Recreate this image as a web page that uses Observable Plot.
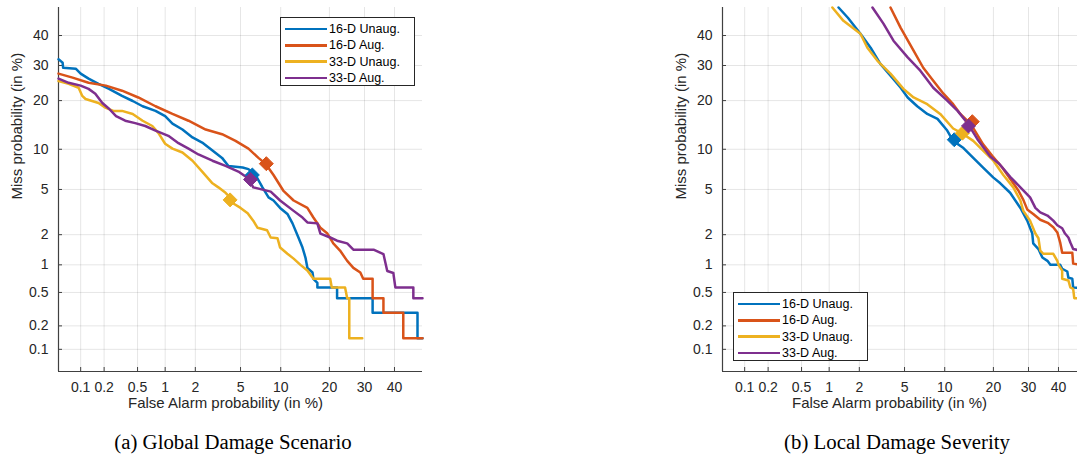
<!DOCTYPE html>
<html>
<head>
<meta charset="utf-8">
<script src="https://cdn.jsdelivr.net/npm/d3@7"></script>
<script src="https://cdn.jsdelivr.net/npm/@observablehq/plot@0.6"></script>
<style>
  html, body { margin: 0; padding: 0; background: #fff; overflow: hidden; }
  #wrap { position: relative; width: 1077px; height: 456px; overflow: hidden; background: #fff; }
  .panel { position: absolute; top: 0; width: 440px; height: 420px; }
  .panel svg { max-width: none !important; }
  .legend { position: absolute; width: 133px; height: 67px; border: 1px solid #262626; background: #fff;
            font-family: "Liberation Sans", Arial, sans-serif; font-size: 12.5px; color: #000; z-index: 5; }
  .legend .row { position: absolute; left: 0; height: 16px; width: 133px; }
  .legend .sw { position: absolute; left: 4px; top: 6.8px; width: 42px; height: 2.6px; }
  .legend .lab { position: absolute; left: 48px; top: 0; line-height: 16px; white-space: nowrap; }
  .caption { position: absolute; top: 431px; width: 440px; text-align: center;
             font-family: "Liberation Serif", "Times New Roman", serif; font-size: 20.8px; color: #000; line-height: 22px; }
</style>
</head>
<body>
<div id="wrap"></div>
<script>
// ---------- DATA (all values in %) ----------
const seriesNames = ["16-D Unaug.", "16-D Aug.", "33-D Unaug.", "33-D Aug."];
const seriesColors = ["#0072BD", "#D95319", "#EDB120", "#7E2F8E"];
const tickValues = [0.1, 0.2, 0.5, 1, 2, 5, 10, 20, 30, 40];
const tickLabels = ["0.1", "0.2", "0.5", "1", "2", "5", "10", "20", "30", "40"];
const captions = ["(a) Global Damage Scenario", "(b) Local Damage Severity"];
const xLabel = "False Alarm probability (in %)";
const yLabel = "Miss probability (in %)";

// (a) Global Damage Scenario: [false alarm %, miss %]
const global16Unaug = [[0.05,32],[0.057,30.9],[0.058,29.3],[0.086,29.0],[0.10,27.5],[0.127,26.0],[0.17,24.5],[0.23,23.1],[0.33,21.2],[0.44,19.9],[0.57,18.6],[0.79,17.5],[1.0,16.3],[1.19,14.7],[1.5,13.5],[1.88,12.0],[2.32,11.1],[2.88,9.8],[3.5,8.7],[3.97,7.6],[5.2,7.4],[5.78,7.2],[6.55,6.5],[7.4,5.2],[8.2,4.3],[8.9,4.05],[9.9,3.5],[11.1,3.1],[12.0,2.55],[13.1,1.88],[13.9,1.5],[14.5,1.19],[14.9,0.93],[16.0,0.83],[16.2,0.71],[17.1,0.64],[17.1,0.57],[22.0,0.57],[22.0,0.43],[32.6,0.43],[32.6,0.29],[48.2,0.29],[48.2,0.14],[50,0.14]];
const global16Aug = [[0.05,27.5],[0.078,26.3],[0.127,24.8],[0.21,24.0],[0.33,22.6],[0.51,20.8],[0.79,18.6],[1.19,16.8],[1.72,15.3],[2.5,13.5],[3.5,12.6],[4.55,11.4],[5.78,10.1],[6.9,8.7],[7.8,7.9],[8.9,6.5],[10.4,4.9],[12.2,4.05],[14.9,3.5],[16.2,2.88],[17.8,2.32],[19.5,2.05],[21.0,1.65],[22.8,1.4],[24.8,1.1],[26.6,0.93],[28.7,0.83],[29.6,0.71],[32.6,0.71],[32.6,0.43],[36.2,0.43],[36.2,0.29],[43.1,0.29],[43.1,0.14],[50,0.14]];
const global33Unaug = [[0.05,25.3],[0.069,24.5],[0.094,23.4],[0.105,21.2],[0.116,20.4],[0.17,19.4],[0.21,18.2],[0.26,17.5],[0.33,17.5],[0.44,16.8],[0.57,15.3],[0.73,14.2],[0.85,12.8],[1.0,10.9],[1.19,10.1],[1.5,9.5],[1.88,8.3],[2.32,6.9],[2.88,5.6],[3.25,5.2],[3.75,4.7],[4.1,4.3],[4.4,3.8],[5.0,3.5],[5.7,3.15],[6.3,2.7],[6.8,2.32],[8.0,2.2],[8.5,1.88],[9.5,1.85],[9.9,1.5],[11.1,1.3],[12.2,1.16],[13.5,1.0],[14.9,0.87],[16.2,0.71],[20.2,0.71],[20.6,0.57],[24.2,0.57],[24.8,0.43],[25.4,0.43],[25.4,0.14],[29.3,0.14]];
const global33Aug = [[0.05,26.0],[0.069,24.8],[0.10,24.0],[0.127,23.1],[0.155,21.8],[0.19,19.4],[0.23,18.0],[0.28,16.3],[0.36,15.3],[0.47,14.8],[0.61,14.2],[0.79,13.3],[1.08,12.3],[1.37,11.0],[1.72,10.1],[2.14,9.2],[2.88,8.3],[3.75,7.6],[4.8,6.9],[5.78,6.1],[6.3,5.2],[8.5,4.8],[9.9,4.05],[12.2,3.3],[13.9,2.88],[14.9,2.6],[17.1,2.55],[17.8,2.05],[20.2,1.88],[22.0,1.75],[24.8,1.65],[26.6,1.43],[32.9,1.43],[36.2,1.29],[37.5,0.86],[39.6,0.82],[40.3,0.57],[46.7,0.57],[46.7,0.43],[50,0.43]];
const globalMarkers = [[6.2,6.5],[7.9,7.9],[4.1,4.1],[6.0,6.0]];

// (b) Local Damage Severity
const local16Unaug = [[1.25,50],[1.55,46.3],[2.05,40.6],[2.55,35.8],[3.12,30.5],[3.82,26.9],[4.65,23.4],[5.3,20.8],[6.3,18.6],[7.5,16.8],[8.9,15.7],[10.4,13.3],[11.4,11.4],[13.3,10.2],[15.3,8.7],[17.5,7.4],[20.0,6.2],[21.8,5.6],[24.5,4.7],[27.5,3.5],[29.6,2.7],[31.2,2.05],[31.5,1.65],[33.2,1.45],[34.5,1.19],[36.2,1.1],[37.2,1.0],[40.6,1.0],[41.3,0.91],[43.1,0.85],[43.5,0.73],[44.9,0.71],[45.2,0.57],[47.5,0.56]];
const local16Aug = [[3.82,50],[4.65,42.7],[5.9,34.8],[7.0,29.3],[8.3,25.4],[9.8,21.8],[11.4,19.1],[12.7,16.8],[14.8,14.6],[17.5,10.8],[19.7,9.0],[22.3,7.4],[25.4,5.6],[26.9,4.9],[28.4,4.1],[29.6,3.4],[31.5,3.1],[33.8,2.75],[36.3,2.58],[38.2,2.35],[39.6,2.1],[40.6,1.68],[41.3,1.33],[44.9,1.33],[45.2,1.03],[47.8,1.0]];
const local33Unaug = [[1.08,50],[1.4,45.2],[2.05,40.6],[2.38,35.8],[2.94,31.5],[3.82,27.5],[4.9,23.1],[5.9,20.8],[7.5,19.1],[9.3,16.8],[11.4,13.7],[13.3,12.6],[15.3,11.4],[17.5,9.8],[20.0,8.3],[22.6,6.5],[25.4,5.2],[27.5,4.05],[28.4,3.3],[30.5,2.7],[32.2,2.05],[33.2,1.85],[33.8,1.4],[34.8,1.3],[38.2,1.3],[39.6,1.1],[40.0,1.0],[41.3,0.87],[41.3,0.71],[43.5,0.68],[44.2,0.57],[45.2,0.55],[45.6,0.43],[47.8,0.43]];
const local33Aug = [[2.65,50],[3.32,44.2],[4.05,38.2],[5.3,32.6],[6.65,28.4],[8.3,23.4],[10.4,20.0],[12.2,17.5],[14.1,14.8],[16.2,11.7],[19.2,8.9],[21.5,7.9],[24.5,6.3],[27.5,5.2],[30.5,4.3],[32.2,3.5],[33.8,3.2],[36.2,3.0],[38.2,2.7],[39.6,2.45],[41.3,2.3],[42.3,2.05],[43.5,1.88],[44.2,1.68],[45.2,1.45],[47.8,1.4]];
const localMarkers = [[11.6,11.6],[15.1,15.1],[13.1,12.8],[14.3,14.2]];

// ---------- probit (normal deviate) transform ----------
function probit(p) {
  const a=[-3.969683028665376e+01,2.209460984245205e+02,-2.759285104469687e+02,1.383577518672690e+02,-3.066479806614716e+01,2.506628277459239e+00];
  const b=[-5.447609879822406e+01,1.615858368580409e+02,-1.556989798598866e+02,6.680131188771972e+01,-1.328068155288572e+01];
  const c=[-7.784894002430293e-03,-3.223964580411365e-01,-2.400758277161838e+00,-2.549732539343734e+00,4.374664141464968e+00,2.938163982698783e+00];
  const d=[7.784695709041462e-03,3.224671290700398e-01,2.445134137142996e+00,3.754408661907416e+00];
  const pl = 0.02425;
  if (p < pl) { const q = Math.sqrt(-2*Math.log(p)); return (((((c[0]*q+c[1])*q+c[2])*q+c[3])*q+c[4])*q+c[5])/((((d[0]*q+d[1])*q+d[2])*q+d[3])*q+1); }
  if (p <= 1-pl) { const q = p-0.5, r = q*q; return (((((a[0]*r+a[1])*r+a[2])*r+a[3])*r+a[4])*r+a[5])*q/(((((b[0]*r+b[1])*r+b[2])*r+b[3])*r+b[4])*r+1); }
  const q = Math.sqrt(-2*Math.log(1-p)); return -(((((c[0]*q+c[1])*q+c[2])*q+c[3])*q+c[4])*q+c[5])/((((d[0]*q+d[1])*q+d[2])*q+d[3])*q+1);
}
const z = v => probit(v / 100);
const domainZ = [z(0.05), z(50)];
const tickZ = tickValues.map(z);
const fmt = t => tickLabels[tickZ.findIndex(u => Math.abs(u - t) < 1e-9)];

function toRows(arr) { return arr.map(([f, m]) => ({fa: z(f), miss: z(m)})); }

function panel(seriesList, markers) {
  const marks = [
    Plot.gridX(tickZ, {stroke: "#000", strokeOpacity: 0.1, strokeWidth: 1}),
    Plot.gridY(tickZ, {stroke: "#000", strokeOpacity: 0.1, strokeWidth: 1}),
    Plot.ruleX([domainZ[0]], {stroke: "#404040", strokeWidth: 1.2}),
    Plot.ruleY([domainZ[0]], {stroke: "#404040", strokeWidth: 1.2}),
    Plot.axisX(tickZ, {tickSize: -4, tickPadding: 15, tickFormat: fmt, label: null, stroke: "#404040", fill: "#262626", fontSize: 14}),
    Plot.axisY(tickZ, {tickSize: -4, tickPadding: 14, tickFormat: fmt, label: null, stroke: "#404040", fill: "#262626", fontSize: 14}),
    Plot.text([xLabel], {text: d => d, frameAnchor: "bottom", dy: 36, dx: -15, fontSize: 15, fill: "#262626"}),
    Plot.text([yLabel], {text: d => d, frameAnchor: "left", rotate: -90, dx: -41, dy: 10, fontSize: 15, fill: "#262626"})
  ];
  seriesList.forEach((s, i) => {
    marks.push(Plot.line(toRows(s), {x: "fa", y: "miss", stroke: seriesColors[i], strokeWidth: 2.5, curve: "linear"}));
  });
  markers.forEach((m, i) => {
    marks.push(Plot.dot(toRows([m]), {x: "fa", y: "miss", symbol: "diamond2", r: 6.3, fill: seriesColors[i], stroke: seriesColors[i], strokeWidth: 1}));
  });
  return Plot.plot({
    width: 440, height: 420,
    marginLeft: 58, marginRight: 18, marginTop: 7, marginBottom: 49,
    x: {domain: domainZ, axis: null},
    y: {domain: domainZ, axis: null},
    style: {fontFamily: "'Liberation Sans', Arial, sans-serif", fontSize: "14px", background: "transparent", overflow: "visible"},
    marks
  });
}

function legend(left, top) {
  const box = document.createElement("div");
  box.className = "legend";
  box.style.left = left + "px";
  box.style.top = top + "px";
  seriesNames.forEach((name, i) => {
    const row = document.createElement("div");
    row.className = "row";
    row.style.top = (3 + i * 16.3) + "px";
    const sw = document.createElement("div");
    sw.className = "sw";
    sw.style.background = seriesColors[i];
    const lab = document.createElement("div");
    lab.className = "lab";
    lab.textContent = name;
    row.appendChild(sw); row.appendChild(lab);
    box.appendChild(row);
  });
  return box;
}

const wrap = document.getElementById("wrap");
function place(el, left) {
  const d = document.createElement("div");
  d.className = "panel";
  d.style.left = left + "px";
  d.appendChild(el);
  wrap.appendChild(d);
}
place(panel([global16Unaug, global16Aug, global33Unaug, global33Aug], globalMarkers), 0);
place(panel([local16Unaug, local16Aug, local33Unaug, local33Aug], localMarkers), 664);
wrap.appendChild(legend(280, 17));
wrap.appendChild(legend(733, 292));
[[13, 0], [677, 1]].forEach(([left, i]) => {
  const c = document.createElement("div");
  c.className = "caption";
  c.style.left = left + "px";
  c.textContent = captions[i];
  wrap.appendChild(c);
});
</script>
</body>
</html>
